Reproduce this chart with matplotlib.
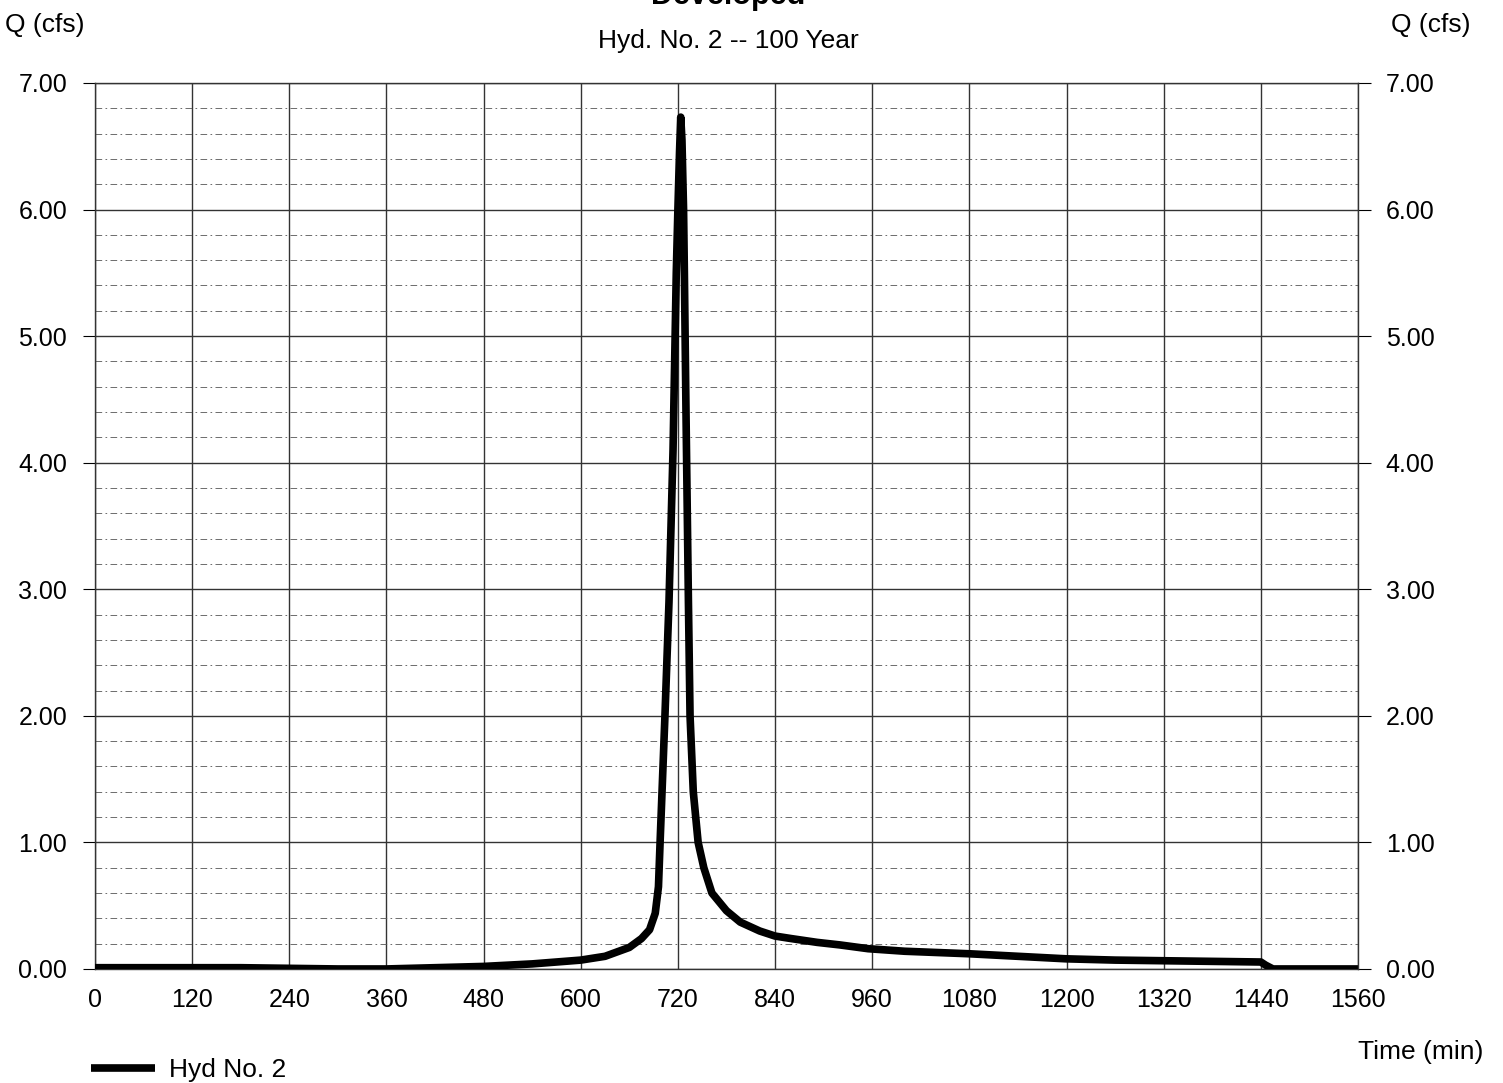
import numpy as np
import matplotlib
matplotlib.use('Agg')
from matplotlib import pyplot as plt
from matplotlib.ticker import MultipleLocator

plt.rcParams['font.family'] = ['Liberation Sans', 'DejaVu Sans']

# hydrograph
time_min = [0, 60, 120, 180, 240, 300, 360, 420, 480, 540, 600, 630, 660, 675, 685, 692,
            696, 698, 701, 704, 709, 714, 718, 720, 722, 723.5, 725, 727, 728, 730, 733,
            735, 739, 745, 752, 762, 780, 797, 821, 840, 860, 892, 920, 955, 1000, 1080,
            1140, 1200, 1260, 1320, 1380, 1440, 1446, 1455, 1560]
q_cfs = [0.01, 0.01, 0.01, 0.01, 0.005, 0.0, 0.0, 0.01, 0.02, 0.04, 0.07, 0.10, 0.17, 0.24, 0.31, 0.44,
         0.65, 1.00, 1.50, 2.00, 2.90, 4.10, 5.50, 6.00, 6.45, 6.73, 6.55, 6.00, 5.50, 4.40, 2.90,
         2.00, 1.40, 1.00, 0.80, 0.60, 0.46, 0.37, 0.30, 0.26, 0.24, 0.21, 0.19, 0.16, 0.14, 0.12,
         0.10, 0.08, 0.07, 0.065, 0.06, 0.055, 0.03, 0.0, 0.0]

x_ticks = list(range(0, 1561, 120))
y_ticks = [0, 1, 2, 3, 4, 5, 6, 7]

fig = plt.figure(figsize=(15.03, 10.83), dpi=100)
ax = fig.add_axes([0.0632, 0.1053, 0.8403, 0.8181])

ax.plot(time_min, q_cfs, color='black', lw=5.5, solid_capstyle='butt',
        solid_joinstyle='round', label='Hyd No. 2', zorder=5)

ax.set_xlim(0, 1560)
ax.set_ylim(0, 7)
ax.set_xticks(x_ticks)
ax.set_yticks(y_ticks)
ax.set_yticklabels(['%.2f' % v for v in y_ticks])
ax.yaxis.set_minor_locator(MultipleLocator(0.2))

ax.grid(which='major', color='#333333', lw=1.0)
ax.grid(which='minor', axis='y', color='#555555', lw=0.6, linestyle=(0, (8, 4, 2, 4)))
ax.set_axisbelow(True)

for s in ax.spines.values():
    s.set_color('#333333')
    s.set_linewidth(1.0)

ax.tick_params(axis='x', which='both', length=0, labelsize=18, pad=14)
ax.tick_params(axis='y', which='major', length=9, labelsize=18, left=True, right=True,
               labelleft=True, labelright=True, pad=11)
ax.tick_params(axis='y', which='minor', length=0)

fig.text(0.0035, 0.977, 'Q (cfs)', fontsize=19, ha='left', va='center')
fig.text(0.9785, 0.977, 'Q (cfs)', fontsize=19, ha='right', va='center')
fig.text(0.4847, 0.9963, 'Developed', fontsize=22, fontweight='bold', ha='center', va='baseline')
fig.text(0.4847, 0.9557, 'Hyd. No. 2 -- 100 Year', fontsize=19, ha='center', va='baseline')
fig.text(0.9867, 0.0286, 'Time (min)', fontsize=19, ha='right', va='center')

fig.legend(loc='center left', bbox_to_anchor=(0.045, 0.012), frameon=False, fontsize=19,
           handlelength=2.4, handletextpad=0.55)

fig.savefig('out.png', dpi=100)
